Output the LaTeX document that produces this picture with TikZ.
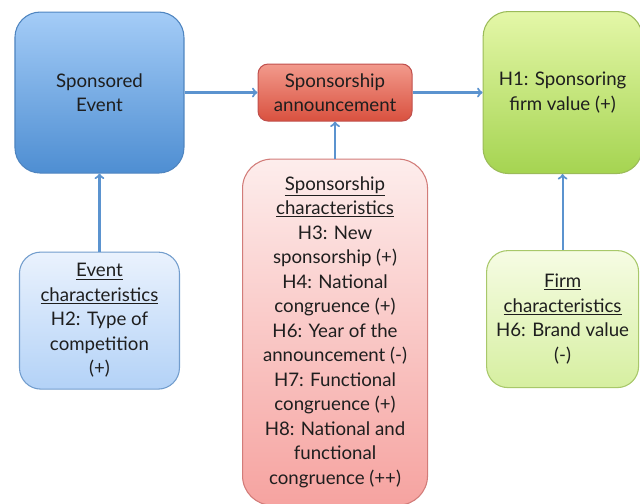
\documentclass[tikz,border=0pt]{standalone}
\usepackage{fontspec}
\setmainfont{Lato}
\usepackage{tikz}
\usetikzlibrary{positioning}
\usepackage{xcolor}

\definecolor{evtop}{HTML}{A4CCF7}
\definecolor{evbot}{HTML}{4E8ED2}
\definecolor{evline}{HTML}{4F85C0}
\definecolor{antop}{HTML}{F29A8C}
\definecolor{anbot}{HTML}{D9513F}
\definecolor{anline}{HTML}{C0504D}
\definecolor{fvtop}{HTML}{E4F7A8}
\definecolor{fvbot}{HTML}{A5D451}
\definecolor{fvline}{HTML}{9BBB59}
\definecolor{ectop}{HTML}{EAF2FD}
\definecolor{ecbot}{HTML}{B3D2F7}
\definecolor{scbot}{HTML}{F6A3A0}
\definecolor{sctop}{HTML}{FDEDEC}
\definecolor{scline}{HTML}{D27C79}
\definecolor{fctop}{HTML}{F6FCE4}
\definecolor{fcbot}{HTML}{D6EFA0}
\definecolor{fcline}{HTML}{A8C86A}
\definecolor{arrowblue}{HTML}{5B93CF}
\definecolor{textgray}{HTML}{1E1E1E}

\begin{document}
\begin{tikzpicture}[%
    ->,
    >=to,
    node distance=50pt,
    box/.style={%
      rectangle,
      align=center,
      inner sep=0pt,
      line width=0.8pt,
      text=textgray,
      font=\fontsize{14}{18.4}\selectfont
    },
    link/.style={%
      draw=arrowblue,
      line width=1.6pt
    }
  ]
    \useasboundingbox (0,0) rectangle (480pt,-378pt);

    \node[box, draw=evline, top color=evtop, bottom color=evbot,
          rounded corners=19pt, minimum width=126.75pt, minimum height=120.75pt]
          (event) at (74.6pt,-69.4pt) {Sponsored\\Event};
    \node[box, draw=anline, top color=antop, bottom color=anbot,
          rounded corners=7.5pt, minimum width=115.5pt, minimum height=42.75pt]
          (announce) [node distance=54.75pt, right=of event] {Sponsorship\\announcement};
    \node[box, draw=fvline, top color=fvtop, bottom color=fvbot,
          rounded corners=19pt, minimum width=119.25pt, minimum height=121.5pt]
          (value) [node distance=52.5pt, right=of announce] {H1: Sponsoring\\firm value (+)};
    \node[box, draw=evline!80, top color=ectop, bottom color=ecbot,
          rounded corners=16pt, minimum width=120pt, minimum height=102.75pt]
          (eventchar) [node distance=58.5pt, below=of event]
          {\underline{Event}\\\underline{characteristics}\\H2: Type of\\competition\\(+)};
    \node[box, draw=scline, top color=sctop, bottom color=scbot,
          rounded corners=22pt, minimum width=138.75pt, minimum height=259.5pt]
          (sponschar) [node distance=27.75pt, below=of announce]
          {\underline{Sponsorship}\\\underline{characteristics}\\H3: New\\sponsorship (+)\\
           H4: National\\congruence (+)\\H6: Year of the\\announcement (-)\\
           H7: Functional\\congruence (+)\\H8: National and\\functional\\congruence (++)};
    \node[box, draw=fcline, top color=fctop, bottom color=fcbot,
          rounded corners=16pt, minimum width=114pt, minimum height=102.75pt]
          (firmchar) [node distance=57pt, below=of value]
          {\underline{Firm}\\\underline{characteristics}\\H6: Brand value\\(-)};

    \path (event) edge [link] (announce)
          (announce) edge [link] (value)
          (sponschar) edge [link] (announce)
          (eventchar) edge [link] (event)
          (firmchar) edge [link] (value)
          ;
  \end{tikzpicture}
\end{document}
